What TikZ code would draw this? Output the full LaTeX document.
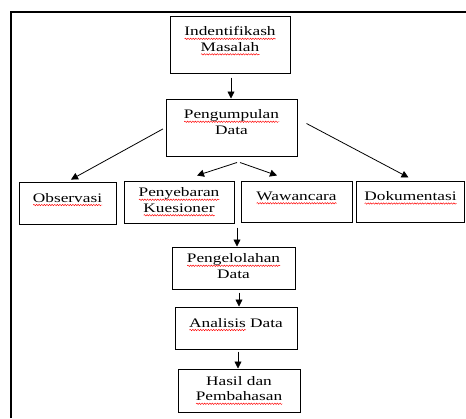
\documentclass[tikz,border=0pt]{standalone}
\usepackage{fontspec}
\setmainfont[FakeStretch=1.33]{Liberation Serif}
\usetikzlibrary{calc, arrows.meta, decorations.pathmorphing}

% red wavy underline of the spell checker
\newsavebox{\typobox}
\newlength{\typolen}
\newcommand{\typo}[1]{\sbox{\typobox}{#1}\setlength{\typolen}{\wd\typobox}%
  \leavevmode\rlap{\tikz[baseline=0pt, x=1pt, y=1pt]\draw[red, line width=0.45pt, decorate,
    decoration={snake, amplitude=0.7pt, segment length=2.6pt}] (0,-3) -- (\typolen,-3);}%
  \usebox{\typobox}}

\begin{document}
\begin{tikzpicture}[
    x=1pt, y=-1pt, % pixel grid, y pointing down
    box/.style={draw, line width=1pt, align=center, inner sep=0pt,
      font=\fontsize{13}{15.5}\selectfont, text depth=11pt}, % process box
    flat/.style={text depth=4pt}, % box with centred text
    arrow/.style={-{Triangle[width=7pt, length=7pt]}, line width=0.8pt} % connector
  ]
  \useasboundingbox (0,0) rectangle (466,418);

  % --- Frame ---
  \draw[line width=1.2pt] (11,418) |- (466,12);

  % --- Boxes ---
  \node[box, minimum width=120, minimum height=57] (masalah) at (230,44.5)
    {\typo{Indentifikash}\\\typo{Masalah}};
  \node[box, minimum width=131, minimum height=57] (kumpul) at (231.5,127.5)
    {\typo{Pengumpulan}\\Data};

  \node[box, minimum width=97, minimum height=42] (observasi) at (67.5,203) {\typo{Observasi}};
  \node[box, flat, minimum width=110, minimum height=42] (kuesioner) at (179,202)
    {\typo{Penyebaran}\\\typo{Kuesioner}};
  \node[box, minimum width=111, minimum height=41] (wawancara) at (296.5,201.5) {\typo{Wawancara}};
  \node[box, minimum width=108, minimum height=41] (dokumentasi) at (410.5,201.5) {\typo{Dokumentasi}};

  \node[box, flat, minimum width=123, minimum height=42] (olah) at (233.5,268)
    {\typo{Pengelolahan}\\Data};
  \node[box, minimum width=122, minimum height=42] (analisis) at (236,328)
    {\typo{Analisis} Data};
  \node[box, flat, minimum width=122, minimum height=43] (hasil) at (239,390.5)
    {Hasil dan\\\typo{Pembahasan}};

  % --- Connectors ---
  \draw[arrow, shorten <=4pt] ([xshift=1pt]masalah.south) -- ([xshift=1pt]masalah.south |- kumpul.north);
  \draw[arrow, shorten <=3pt, shorten >=4pt] (kumpul.west) -- (observasi.north);
  \draw[arrow] ($(kumpul.east)+(9,-4)$) -- ($(dokumentasi.north)+(-2,-3)$);
  \draw[arrow] ($(kumpul.south)+(5.5,6)$) -- ($(kuesioner.north)+(18,-5)$);
  \draw[arrow] ($(kumpul.south)+(8.5,6)$) -- ($(wawancara.north)+(-19.5,-5)$);
  \draw[arrow, shorten <=4pt] ([xshift=3.5pt]olah.north |- kuesioner.south) -- ([xshift=3.5pt]olah.north);
  \draw[arrow, shorten <=3pt] ([xshift=3pt]analisis.north |- olah.south) -- ([xshift=3pt]analisis.north);
  \draw[arrow, shorten <=2pt] ([xshift=2pt]analisis.south) -- ([xshift=2pt]analisis.south |- hasil.north);

\end{tikzpicture}
\end{document}
